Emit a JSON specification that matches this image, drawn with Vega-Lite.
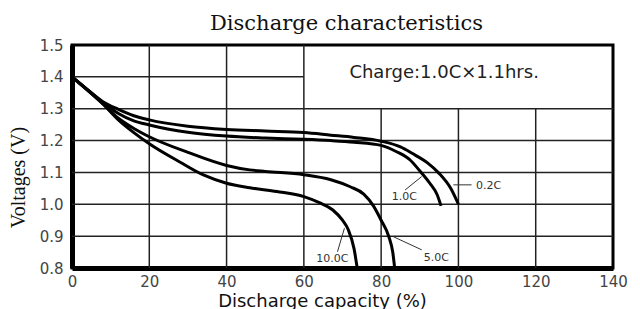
{
  "$schema": "https://vega.github.io/schema/vega-lite/v6.json",
  "width": 541,
  "height": 223,
  "autosize": {"type": "none"},
  "padding": {"left": 72, "top": 45, "right": 27, "bottom": 41},
  "background": "white",
  "config": {
    "view": {"stroke": "black", "strokeWidth": 3},
    "axis": {"grid": false, "labelOverlap": false, "labelSeparation": 0, "labelBound": false},
    "axisY": {"labelOverlap": false}
  },
  "title": {
    "text": "Discharge characteristics",
    "font": "DejaVu Serif",
    "fontSize": 21,
    "fontWeight": "normal",
    "color": "#111",
    "anchor": "middle",
    "dx": 4,
    "dy": 28,
    "baseline": "alphabetic",
    "offset": 15
  },
  "datasets": {
    "curves": [
      {"s": "0.2C", "x": 0, "y": 1.4}, {"s": "0.2C", "x": 4, "y": 1.36}, {"s": "0.2C", "x": 8, "y": 1.322}, {"s": "0.2C", "x": 12, "y": 1.298}, {"s": "0.2C", "x": 16, "y": 1.278}, {"s": "0.2C", "x": 20, "y": 1.265}, {"s": "0.2C", "x": 30, "y": 1.245}, {"s": "0.2C", "x": 40, "y": 1.235}, {"s": "0.2C", "x": 50, "y": 1.23}, {"s": "0.2C", "x": 60, "y": 1.225}, {"s": "0.2C", "x": 67, "y": 1.217}, {"s": "0.2C", "x": 73, "y": 1.21}, {"s": "0.2C", "x": 80, "y": 1.198}, {"s": "0.2C", "x": 85, "y": 1.18}, {"s": "0.2C", "x": 88, "y": 1.16}, {"s": "0.2C", "x": 92, "y": 1.13}, {"s": "0.2C", "x": 95, "y": 1.097}, {"s": "0.2C", "x": 98, "y": 1.05}, {"s": "0.2C", "x": 100, "y": 1.0},
      {"s": "1.0C", "x": 0, "y": 1.4}, {"s": "1.0C", "x": 4, "y": 1.36}, {"s": "1.0C", "x": 8, "y": 1.32}, {"s": "1.0C", "x": 12, "y": 1.285}, {"s": "1.0C", "x": 16, "y": 1.262}, {"s": "1.0C", "x": 20, "y": 1.249}, {"s": "1.0C", "x": 30, "y": 1.226}, {"s": "1.0C", "x": 40, "y": 1.214}, {"s": "1.0C", "x": 50, "y": 1.208}, {"s": "1.0C", "x": 60, "y": 1.204}, {"s": "1.0C", "x": 67, "y": 1.2}, {"s": "1.0C", "x": 73, "y": 1.195}, {"s": "1.0C", "x": 80, "y": 1.185}, {"s": "1.0C", "x": 84, "y": 1.165}, {"s": "1.0C", "x": 87.5, "y": 1.139}, {"s": "1.0C", "x": 90, "y": 1.105}, {"s": "1.0C", "x": 92.6, "y": 1.066}, {"s": "1.0C", "x": 94.5, "y": 1.03}, {"s": "1.0C", "x": 95.5, "y": 0.995},
      {"s": "5.0C", "x": 0, "y": 1.4}, {"s": "5.0C", "x": 4, "y": 1.358}, {"s": "5.0C", "x": 8, "y": 1.315}, {"s": "5.0C", "x": 12, "y": 1.27}, {"s": "5.0C", "x": 16, "y": 1.238}, {"s": "5.0C", "x": 20, "y": 1.212}, {"s": "5.0C", "x": 30, "y": 1.163}, {"s": "5.0C", "x": 40, "y": 1.122}, {"s": "5.0C", "x": 46, "y": 1.108}, {"s": "5.0C", "x": 50, "y": 1.103}, {"s": "5.0C", "x": 60, "y": 1.093}, {"s": "5.0C", "x": 67, "y": 1.077}, {"s": "5.0C", "x": 72, "y": 1.055}, {"s": "5.0C", "x": 75.5, "y": 1.032}, {"s": "5.0C", "x": 78, "y": 0.995}, {"s": "5.0C", "x": 80, "y": 0.95}, {"s": "5.0C", "x": 82, "y": 0.898}, {"s": "5.0C", "x": 83, "y": 0.85}, {"s": "5.0C", "x": 83.5, "y": 0.8},
      {"s": "10.0C", "x": 0, "y": 1.4}, {"s": "10.0C", "x": 4, "y": 1.358}, {"s": "10.0C", "x": 8, "y": 1.315}, {"s": "10.0C", "x": 12, "y": 1.265}, {"s": "10.0C", "x": 16, "y": 1.225}, {"s": "10.0C", "x": 20, "y": 1.19}, {"s": "10.0C", "x": 28, "y": 1.132}, {"s": "10.0C", "x": 34, "y": 1.092}, {"s": "10.0C", "x": 40, "y": 1.066}, {"s": "10.0C", "x": 46, "y": 1.052}, {"s": "10.0C", "x": 53, "y": 1.04}, {"s": "10.0C", "x": 60, "y": 1.024}, {"s": "10.0C", "x": 64, "y": 1.005}, {"s": "10.0C", "x": 67.5, "y": 0.982}, {"s": "10.0C", "x": 70, "y": 0.95}, {"s": "10.0C", "x": 71.5, "y": 0.92}, {"s": "10.0C", "x": 73, "y": 0.86}, {"s": "10.0C", "x": 73.8, "y": 0.8}
    ],
    "grid": [
      {"x": 0, "x2": 140, "y": 0.9, "y2": 0.9},
      {"x": 0, "x2": 140, "y": 1.0, "y2": 1.0},
      {"x": 0, "x2": 140, "y": 1.1, "y2": 1.1},
      {"x": 0, "x2": 140, "y": 1.2, "y2": 1.2},
      {"x": 0, "x2": 140, "y": 1.3, "y2": 1.3},
      {"x": 0, "x2": 60, "y": 1.4, "y2": 1.4},
      {"x": 20, "x2": 20, "y": 0.8, "y2": 1.5},
      {"x": 40, "x2": 40, "y": 0.8, "y2": 1.5},
      {"x": 60, "x2": 60, "y": 0.8, "y2": 1.5},
      {"x": 80, "x2": 80, "y": 0.8, "y2": 1.3},
      {"x": 100, "x2": 100, "y": 0.8, "y2": 1.3},
      {"x": 120, "x2": 120, "y": 0.8, "y2": 1.3}
    ],
    "leaders": [
      {"x": 98.7, "x2": 103.4, "y": 1.061, "y2": 1.061},
      {"x": 86.2, "x2": 90.5, "y": 1.045, "y2": 1.087},
      {"x": 83.2, "x2": 90.5, "y": 0.898, "y2": 0.857},
      {"x": 68.7, "x2": 70.5, "y": 0.851, "y2": 0.925}
    ],
    "labels": [
      {"t": "0.2C", "x": 107.8, "y": 1.058},
      {"t": "1.0C", "x": 86.0, "y": 1.024},
      {"t": "5.0C", "x": 94.3, "y": 0.83},
      {"t": "10.0C", "x": 67.4, "y": 0.827}
    ],
    "note": [
      {"t": "Charge:1.0C×1.1hrs.", "x": 96.3, "y": 1.412}
    ]
  },
  "layer": [
    {
      "data": {"name": "grid"},
      "mark": {"type": "rule", "color": "#222", "strokeWidth": 1.5},
      "encoding": {
        "x": {
          "field": "x", "type": "quantitative",
          "scale": {"domain": [0, 140], "nice": false, "zero": false},
          "axis": {
            "values": [0, 20, 40, 60, 80, 100, 120, 140],
            "ticks": false, "labelOverlap": false,
            "domain": true, "domainColor": "black", "domainWidth": 5,
            "labelFont": "DejaVu Sans", "labelFontSize": 15, "labelColor": "#444",
            "labelPadding": 6, "labelFlush": false,
            "title": "Discharge capacity (%)",
            "titleFont": "DejaVu Sans", "titleFontSize": 18, "titleFontWeight": "normal", "titleColor": "#111",
            "titleX": 250, "titleY": 38, "titleBaseline": "alphabetic", "titleAnchor": null
          }
        },
        "x2": {"field": "x2"},
        "y": {
          "field": "y", "type": "quantitative",
          "scale": {"domain": [0.8, 1.5], "nice": false, "zero": false},
          "axis": {
            "values": [0.8, 0.9, 1.0, 1.1, 1.2, 1.3, 1.4, 1.5],
            "tickCount": 8,
            "format": ".1f",
            "ticks": false, "labelOverlap": false,
            "domain": true, "domainColor": "black", "domainWidth": 5,
            "labelFont": "DejaVu Sans", "labelFontSize": 15, "labelColor": "#444",
            "labelPadding": 9, "labelFlush": false,
            "title": "Voltages (V)",
            "titleFont": "Liberation Serif", "titleFontSize": 20, "titleFontWeight": "normal", "titleColor": "#111",
            "titleX": -54, "titleY": 132, "titleAngle": -90, "titleBaseline": "middle", "titleAlign": "center"
          }
        },
        "y2": {"field": "y2"}
      }
    },
    {
      "data": {"name": "curves"},
      "mark": {"type": "line", "color": "black", "strokeWidth": 3, "interpolate": "monotone"},
      "encoding": {
        "x": {"field": "x", "type": "quantitative"},
        "y": {"field": "y", "type": "quantitative"},
        "detail": {"field": "s"}
      }
    },
    {
      "data": {"name": "leaders"},
      "mark": {"type": "rule", "color": "#333", "strokeWidth": 1},
      "encoding": {
        "x": {"field": "x", "type": "quantitative"},
        "x2": {"field": "x2"},
        "y": {"field": "y", "type": "quantitative"},
        "y2": {"field": "y2"}
      }
    },
    {
      "data": {"name": "labels"},
      "mark": {"type": "text", "font": "DejaVu Sans", "fontSize": 11, "color": "#333", "baseline": "middle", "align": "center"},
      "encoding": {
        "x": {"field": "x", "type": "quantitative"},
        "y": {"field": "y", "type": "quantitative"},
        "text": {"field": "t"}
      }
    },
    {
      "data": {"name": "note"},
      "mark": {"type": "text", "font": "DejaVu Sans", "fontSize": 18, "color": "#222", "baseline": "middle", "align": "center"},
      "encoding": {
        "x": {"field": "x", "type": "quantitative"},
        "y": {"field": "y", "type": "quantitative"},
        "text": {"field": "t"}
      }
    }
  ]
}
